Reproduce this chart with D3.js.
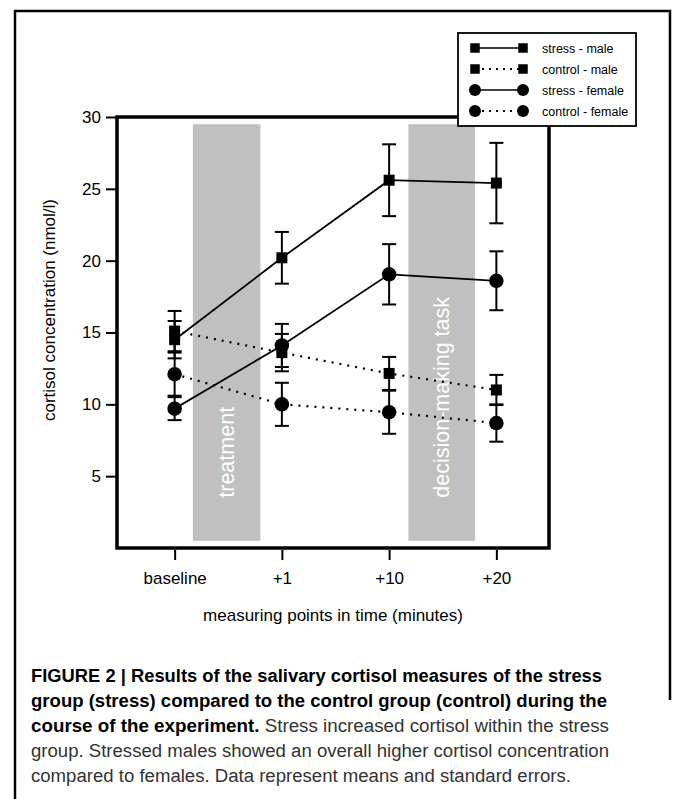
<!DOCTYPE html>
<html>
<head>
<meta charset="utf-8">
<script src="https://cdn.jsdelivr.net/npm/d3@7"></script>
<style>
  body { margin: 0; background: #fff; }
  svg text { font-family: "Liberation Sans", Arial, sans-serif; }
  .cap { font-family: "Liberation Sans Narrow", "Liberation Sans", Arial, sans-serif; }
</style>
</head>
<body>
<div id="canvas"></div>
<script>
// values (means and standard errors, nmol/l)
const timepoints = ["baseline", "+1", "+10", "+20"];
const stressMale = [14.5, 20.2, 25.6, 25.4];
const stressMaleSE = [1.3, 1.8, 2.5, 2.8];
const controlMale = [15.1, 13.6, 12.15, 11.0];
const controlMaleSE = [1.4, 1.3, 1.15, 1.05];
const stressFemale = [9.7, 14.1, 19.05, 18.6];
const stressFemaleSE = [0.8, 1.5, 2.1, 2.05];
const controlFemale = [12.1, 10.0, 9.45, 8.7];
const controlFemaleSE = [1.5, 1.5, 1.5, 1.3];
const yTicks = [5, 10, 15, 20, 25, 30];
const phaseLabels = ["treatment", "decision-making task"];
const phaseStart = [0.17, 2.18];
const phaseEnd = [0.8, 2.8];
const phaseLow = 0.5, phaseHigh = 29.5;

const series = [
  { name: "stress - male", mean: stressMale, se: stressMaleSE, shape: "square", dotted: false },
  { name: "control - male", mean: controlMale, se: controlMaleSE, shape: "square", dotted: true },
  { name: "stress - female", mean: stressFemale, se: stressFemaleSE, shape: "circle", dotted: false },
  { name: "control - female", mean: controlFemale, se: controlFemaleSE, shape: "circle", dotted: true }
];

const width = 673, height = 799;
const svg = d3.select("#canvas").append("svg")
  .attr("width", width).attr("height", height);

// outer panel frame
svg.append("path")
  .attr("d", "M15,799 V11 H670 V700")
  .attr("fill", "none").attr("stroke", "#000").attr("stroke-width", 2.5);

const plot = { left: 117, right: 549, top: 117, bottom: 548 };

const x = d3.scaleLinear().domain([-0.5, 3.5]).range([121, 550]);
const y = d3.scaleLinear().domain([0, 30]).range([plot.bottom, plot.top]);

// grey phase bands
const bands = svg.append("g");
phaseLabels.forEach((lab, i) => {
  bands.append("rect")
    .attr("x", x(phaseStart[i])).attr("width", x(phaseEnd[i]) - x(phaseStart[i]))
    .attr("y", y(phaseHigh)).attr("height", y(phaseLow) - y(phaseHigh))
    .attr("fill", "#c0c0c0");
  const cx = (x(phaseStart[i]) + x(phaseEnd[i])) / 2 + 7;
  bands.append("text")
    .attr("transform", `translate(${cx},${y(3.5)}) rotate(-90)`)
    .attr("fill", "#fff").attr("font-size", 21.5)
    .text(lab);
});

// plot frame
svg.append("rect")
  .attr("x", plot.left).attr("y", plot.top)
  .attr("width", plot.right - plot.left).attr("height", plot.bottom - plot.top)
  .attr("fill", "none").attr("stroke", "#000").attr("stroke-width", 3.5);

// y axis
const yAxis = svg.append("g")
  .attr("transform", `translate(${plot.left - 1},0)`)
  .call(d3.axisLeft(y).tickValues(yTicks).tickSize(10).tickPadding(5));
yAxis.select(".domain").remove();
yAxis.selectAll(".tick line").attr("stroke-width", 2);
yAxis.selectAll(".tick text").attr("font-size", 17).attr("fill", "#000")
  .style("font-family", "Liberation Sans, Arial, sans-serif");

// x axis
const xAxis = svg.append("g")
  .attr("transform", `translate(0,${plot.bottom + 2})`)
  .call(d3.axisBottom(x).tickValues([0, 1, 2, 3]).tickFormat(i => timepoints[i]).tickSize(10).tickPadding(12));
xAxis.select(".domain").remove();
xAxis.selectAll(".tick line").attr("stroke-width", 2);
xAxis.selectAll(".tick text").attr("font-size", 17).attr("fill", "#000")
  .style("font-family", "Liberation Sans, Arial, sans-serif");

svg.append("text")
  .attr("x", 333).attr("y", 621).attr("text-anchor", "middle")
  .attr("font-size", 17).text("measuring points in time (minutes)");
svg.append("text")
  .attr("transform", "translate(55,310) rotate(-90)").attr("text-anchor", "middle")
  .attr("font-size", 17).text("cortisol concentration (nmol/l)");

// connecting lines
const line = d3.line().x((d, i) => x(i)).y(d => y(d));
svg.append("g").selectAll("path").data(series).join("path")
  .attr("d", s => line(s.mean))
  .attr("fill", "none").attr("stroke", "#000")
  .attr("stroke-width", s => s.dotted ? 2.2 : 1.8)
  .attr("stroke-dasharray", s => s.dotted ? "2 6" : null);

// error bars
const eb = svg.append("g").attr("stroke", "#000").attr("stroke-width", 2);
series.forEach(s => {
  s.mean.forEach((m, i) => {
    const cx = x(i), hi = y(m + s.se[i]), lo = y(m - s.se[i]);
    eb.append("line").attr("x1", cx).attr("x2", cx).attr("y1", hi).attr("y2", lo);
    eb.append("line").attr("x1", cx - 7).attr("x2", cx + 7).attr("y1", hi).attr("y2", hi);
    eb.append("line").attr("x1", cx - 7).attr("x2", cx + 7).attr("y1", lo).attr("y2", lo);
  });
});

// markers
function marker(g, shape, cx, cy, size) {
  if (shape === "square") {
    g.append("rect").attr("x", cx - size / 2).attr("y", cy - size / 2)
      .attr("width", size).attr("height", size).attr("fill", "#000");
  } else {
    g.append("circle").attr("cx", cx).attr("cy", cy).attr("r", size / 2).attr("fill", "#000");
  }
}
const mk = svg.append("g");
series.forEach(s => {
  s.mean.forEach((m, i) => marker(mk, s.shape, x(i), y(m), s.shape === "square" ? 11 : 14.5));
});

// legend
const lg = svg.append("g");
lg.append("rect").attr("x", 458).attr("y", 33).attr("width", 178).attr("height", 93)
  .attr("fill", "#fff").attr("stroke", "#000").attr("stroke-width", 1.8);
series.forEach((s, i) => {
  const ry = 48 + i * 21;
  lg.append("line").attr("x1", 475).attr("x2", 523).attr("y1", ry).attr("y2", ry)
    .attr("stroke", "#000").attr("stroke-width", s.dotted ? 2 : 1.5)
    .attr("stroke-dasharray", s.dotted ? "2 5" : null);
  marker(lg, s.shape, 475, ry, s.shape === "square" ? 9.5 : 12);
  marker(lg, s.shape, 523, ry, s.shape === "square" ? 9.5 : 12);
  lg.append("text").attr("x", 542).attr("y", ry + 4.5).attr("font-size", 12.5).text(s.name);
});

// caption
const cap = svg.append("g").attr("class", "cap").attr("font-size", 18).attr("fill", "#1a1a1a");
const capLines = [
  [["FIGURE 2 | Results of the salivary cortisol measures of the stress", true]],
  [["group (stress) compared to the control group (control) during the", true]],
  [["course of the experiment.", true], [" Stress increased cortisol within the stress", false]],
  [["group. Stressed males showed an overall higher cortisol concentration", false]],
  [["compared to females. Data represent means and standard errors.", false]]
];
const capWidths = [571, 576, 578, 578, 540];
capLines.forEach((parts, i) => {
  const t = cap.append("text").attr("class", "cap").attr("x", 31).attr("y", 682 + i * 25)
    .attr("textLength", capWidths[i]).attr("lengthAdjust", "spacingAndGlyphs");
  parts.forEach(p => {
    t.append("tspan").attr("font-weight", p[1] ? "bold" : "normal")
      .attr("fill", p[1] ? "#000" : "#333").text(p[0]);
  });
});
</script>
</body>
</html>
